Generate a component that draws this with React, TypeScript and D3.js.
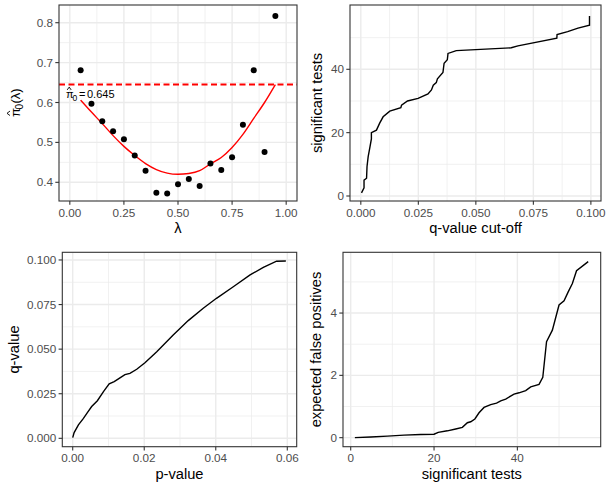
import React from "react";
import * as d3 from "d3";

// ---------- Panel 1: pi0(lambda) ----------
const lambdaVals = [0.05, 0.1, 0.15, 0.2, 0.25, 0.3, 0.35, 0.4, 0.45, 0.5, 0.55, 0.6, 0.65, 0.7, 0.75, 0.8, 0.85, 0.9, 0.95];
const pi0Points = [0.681, 0.597, 0.553, 0.528, 0.508, 0.467, 0.429, 0.374, 0.372, 0.395, 0.408, 0.391, 0.447, 0.431, 0.463, 0.544, 0.681, 0.476, 0.817];
const pi0Smooth = [0.606, 0.576, 0.547, 0.517, 0.49, 0.467, 0.447, 0.432, 0.423, 0.42, 0.422, 0.429, 0.446, 0.462, 0.487, 0.52, 0.56, 0.6, 0.645];
const pi0Estimate = 0.645;
const p1XTicks = [0, 0.25, 0.5, 0.75, 1];
const p1YTicks = [0.4, 0.5, 0.6, 0.7, 0.8];

// ---------- Panel 2: significant tests vs q-value cut-off ----------
const qCutoff = [0.0003, 0.0014, 0.0014, 0.0025, 0.0027, 0.0032, 0.004, 0.0046, 0.0046, 0.0068, 0.0082, 0.0097, 0.0126, 0.0174, 0.0177, 0.0203, 0.0249, 0.0292, 0.0307, 0.0315, 0.0328, 0.0333, 0.0357, 0.0362, 0.0376, 0.0379, 0.0415, 0.0654, 0.0683, 0.0852, 0.0853, 0.0899, 0.0944, 0.0994, 0.0994];
const sigTests = [1, 2.6, 5, 5.6, 9.3, 12.4, 15.6, 18, 20, 20.8, 23, 25, 26.8, 27.9, 28.7, 30, 30.8, 32.2, 33.5, 35, 35.8, 37, 39, 41.9, 43, 45, 45.9, 46.8, 47.4, 49.8, 51, 51.9, 53, 53.9, 56.8];
const p2XTicks = [0, 0.025, 0.05, 0.075, 0.1];
const p2YTicks = [0, 20, 40];

// ---------- Panel 3: q-value vs p-value ----------
const pValues = [0, 0.0004, 0.0016, 0.003, 0.0041, 0.0053, 0.0069, 0.0086, 0.0102, 0.0116, 0.013, 0.0146, 0.016, 0.0179, 0.0202, 0.0235, 0.0281, 0.0323, 0.0365, 0.0402, 0.0449, 0.0496, 0.0533, 0.057, 0.0596];
const qValues = [0.0004, 0.0032, 0.0075, 0.0112, 0.0144, 0.0178, 0.0211, 0.0262, 0.0305, 0.0318, 0.0336, 0.0357, 0.0364, 0.0387, 0.0424, 0.0486, 0.0579, 0.066, 0.0729, 0.0785, 0.085, 0.0916, 0.0959, 0.0993, 0.0994];
const p3XTicks = [0, 0.02, 0.04, 0.06];
const p3YTicks = [0, 0.025, 0.05, 0.075, 0.1];

// ---------- Panel 4: expected false positives vs significant tests ----------
const nSignificant = [1, 4.8, 8.8, 12.8, 16.8, 20, 21, 23.2, 25.2, 26.8, 28, 28.8, 29.8, 30.8, 32, 33.6, 35, 36, 37.2, 39.2, 40.4, 42, 43.2, 45.2, 46.1, 47, 48.4, 50, 51.2, 52.2, 53.2, 54.2, 57];
const expFalsePos = [0, 0.02, 0.05, 0.08, 0.1, 0.11, 0.17, 0.22, 0.28, 0.33, 0.48, 0.51, 0.6, 0.8, 0.97, 1.06, 1.11, 1.18, 1.24, 1.4, 1.44, 1.51, 1.63, 1.71, 1.94, 3.08, 3.45, 4.26, 4.39, 4.68, 4.95, 5.36, 5.65];
const p4XTicks = [0, 20, 40];
const p4YTicks = [0, 2, 4];

const FONT = "'Liberation Sans', Arial, sans-serif";
const GRID = "#EBEBEB";
const BORDER = "#333333";
const TICKTXT = "#4D4D4D";

function minors(ticks: number[], domain: [number, number]) {
  const step = ticks[1] - ticks[0];
  const out: number[] = [];
  for (let i = -1; i < ticks.length; i++) {
    const v = ticks[0] + step * i + step / 2;
    if (v >= domain[0] && v <= domain[1]) out.push(v);
  }
  return out;
}

type PanelProps = {
  box: { l: number; r: number; t: number; b: number };
  xDomain: [number, number];
  yDomain: [number, number];
  xTicks: number[];
  yTicks: number[];
  xFmt: (v: number) => string;
  yFmt: (v: number) => string;
  xTitle: React.ReactNode;
  yTitle: React.ReactNode;
  yTitleX: number;
  children: (x: d3.ScaleLinear<number, number>, y: d3.ScaleLinear<number, number>) => React.ReactNode;
};

function Panel(p: PanelProps) {
  const { box } = p;
  const x = d3.scaleLinear().domain(p.xDomain).range([box.l, box.r]);
  const y = d3.scaleLinear().domain(p.yDomain).range([box.b, box.t]);
  const xm = minors(p.xTicks, p.xDomain);
  const ym = minors(p.yTicks, p.yDomain);
  const clipId = `clip-${Math.round(box.l)}-${Math.round(box.t)}`;
  const cy = (box.t + box.b) / 2;
  const cx = (box.l + box.r) / 2;
  return (
    <g>
      <defs>
        <clipPath id={clipId}>
          <rect x={box.l} y={box.t} width={box.r - box.l} height={box.b - box.t} />
        </clipPath>
      </defs>
      <rect x={box.l} y={box.t} width={box.r - box.l} height={box.b - box.t} fill="white" />
      {xm.map((v) => (
        <line key={"xm" + v} x1={x(v)} x2={x(v)} y1={box.t} y2={box.b} stroke={GRID} strokeWidth={0.7} />
      ))}
      {ym.map((v) => (
        <line key={"ym" + v} y1={y(v)} y2={y(v)} x1={box.l} x2={box.r} stroke={GRID} strokeWidth={0.7} />
      ))}
      {p.xTicks.map((v) => (
        <line key={"xg" + v} x1={x(v)} x2={x(v)} y1={box.t} y2={box.b} stroke={GRID} strokeWidth={1.4} />
      ))}
      {p.yTicks.map((v) => (
        <line key={"yg" + v} y1={y(v)} y2={y(v)} x1={box.l} x2={box.r} stroke={GRID} strokeWidth={1.4} />
      ))}
      <g clipPath={`url(#${clipId})`}>{p.children(x, y)}</g>
      <rect x={box.l} y={box.t} width={box.r - box.l} height={box.b - box.t} fill="none" stroke={BORDER} strokeWidth={1.1} />
      {p.xTicks.map((v) => (
        <g key={"xt" + v}>
          <line x1={x(v)} x2={x(v)} y1={box.b} y2={box.b + 3.7} stroke={BORDER} strokeWidth={1.1} />
          <text x={x(v)} y={box.b + 15.6} textAnchor="middle" fontSize={11.7} fill={TICKTXT} fontFamily={FONT}>
            {p.xFmt(v)}
          </text>
        </g>
      ))}
      {p.yTicks.map((v) => (
        <g key={"yt" + v}>
          <line x1={box.l - 3.7} x2={box.l} y1={y(v)} y2={y(v)} stroke={BORDER} strokeWidth={1.1} />
          <text x={box.l - 6} y={y(v) + 4.1} textAnchor="end" fontSize={11.7} fill={TICKTXT} fontFamily={FONT}>
            {p.yFmt(v)}
          </text>
        </g>
      ))}
      <text x={cx} y={box.b + 32} textAnchor="middle" fontSize={14.67} fill="black" fontFamily={FONT}>
        {p.xTitle}
      </text>
      <g transform={`translate(${p.yTitleX},${cy}) rotate(-90)`}>{p.yTitle}</g>
    </g>
  );
}

// small circumflex accent drawn as a stroke, centred at (cx, cy)
function Hat({ cx, cy, w = 4, h = 2.6 }: { cx: number; cy: number; w?: number; h?: number }) {
  return (
    <path
      d={`M${cx - w / 2},${cy + h / 2} L${cx},${cy - h / 2} L${cx + w / 2},${cy + h / 2}`}
      fill="none"
      stroke="black"
      strokeWidth={0.9}
    />
  );
}

export default function App() {
  const f = (d: number) => (v: number) => v.toFixed(d);
  const lineGen = (x: any, y: any, xs: number[], ys: number[], curve = d3.curveLinear) =>
    d3
      .line<number>()
      .x((_, i) => x(xs[i]))
      .y((v) => y(v))
      .curve(curve)(ys) || "";

  return (
    <svg width={608} height={490} style={{ position: "absolute", left: 0, top: 0, background: "white" }}>
      <rect width={608} height={490} fill="white" />
      {/* Panel 1 */}
      <Panel
        box={{ l: 59, r: 297, t: 5, b: 201 }}
        xDomain={[-0.05, 1.05]}
        yDomain={[0.3531, 0.8444]}
        xTicks={p1XTicks}
        yTicks={p1YTicks}
        xFmt={f(2)}
        yFmt={f(1)}
        xTitle={"λ"}
        yTitleX={20}
        yTitle={
          <g>
            <text fontSize={13} fill="black" fontFamily={FONT}>
              <tspan x={-14} y={0}>π</tspan>
              <tspan x={-6.5} y={3} fontSize={10}>0</tspan>
              <tspan x={-0.5} y={0}>(λ)</tspan>
            </text>
            <Hat cx={-10.3} cy={-11.5} w={4.5} h={3} />
          </g>
        }
      >
        {(x, y) => (
          <g>
            <line x1={x(-0.05)} x2={x(1.05)} y1={y(pi0Estimate)} y2={y(pi0Estimate)} stroke="#FF0000" strokeWidth={2} strokeDasharray="6,3.5" />
            <path d={lineGen(x, y, lambdaVals, pi0Smooth, d3.curveMonotoneX)} fill="none" stroke="#FF0000" strokeWidth={1.4} />
            {pi0Points.map((v, i) => (
              <circle key={i} cx={x(lambdaVals[i])} cy={y(v)} r={3} fill="black" />
            ))}
          </g>
        )}
      </Panel>
      {/* annotation: pi0 hat estimate */}
      <text fontSize={11} fontFamily={FONT} fill="black">
        <tspan x={66} y={98}>π</tspan>
        <tspan x={72.5} y={100.5} fontSize={8.5}>0</tspan>
        <tspan x={79} y={98}>=</tspan>
        <tspan x={87} y={98}>0.645</tspan>
      </text>
      <Hat cx={69.2} cy={88.5} w={4} h={2.8} />

      {/* Panel 2 */}
      <Panel
        box={{ l: 350, r: 601, t: 5, b: 201 }}
        xDomain={[-0.0047, 0.1044]}
        yDomain={[-1.58, 60.3]}
        xTicks={p2XTicks}
        yTicks={p2YTicks}
        xFmt={f(3)}
        yFmt={f(0)}
        xTitle={"q-value cut-off"}
        yTitleX={321.5}
        yTitle={
          <text textAnchor="middle" fontSize={14.67} fill="black" fontFamily={FONT}>
            significant tests
          </text>
        }
      >
        {(x, y) => <path d={lineGen(x, y, qCutoff, sigTests)} fill="none" stroke="black" strokeWidth={1.4} />}
      </Panel>

      {/* Panel 3 */}
      <Panel
        box={{ l: 62.3, r: 296.7, t: 252.3, b: 446.7 }}
        xDomain={[-0.00291, 0.06263]}
        yDomain={[-0.0047, 0.1043]}
        xTicks={p3XTicks}
        yTicks={p3YTicks}
        xFmt={f(2)}
        yFmt={f(3)}
        xTitle={"p-value"}
        yTitleX={18.5}
        yTitle={
          <text textAnchor="middle" fontSize={14.67} fill="black" fontFamily={FONT}>
            q-value
          </text>
        }
      >
        {(x, y) => <path d={lineGen(x, y, pValues, qValues)} fill="none" stroke="black" strokeWidth={1.4} />}
      </Panel>

      {/* Panel 4 */}
      <Panel
        box={{ l: 343, r: 600.7, t: 252.3, b: 446.7 }}
        xDomain={[-1.85, 60]}
        yDomain={[-0.29, 5.95]}
        xTicks={p4XTicks}
        yTicks={p4YTicks}
        xFmt={f(0)}
        yFmt={f(0)}
        xTitle={"significant tests"}
        yTitleX={320.5}
        yTitle={
          <text textAnchor="middle" fontSize={14.67} fill="black" fontFamily={FONT}>
            expected false positives
          </text>
        }
      >
        {(x, y) => <path d={lineGen(x, y, nSignificant, expFalsePos)} fill="none" stroke="black" strokeWidth={1.4} />}
      </Panel>
    </svg>
  );
}
